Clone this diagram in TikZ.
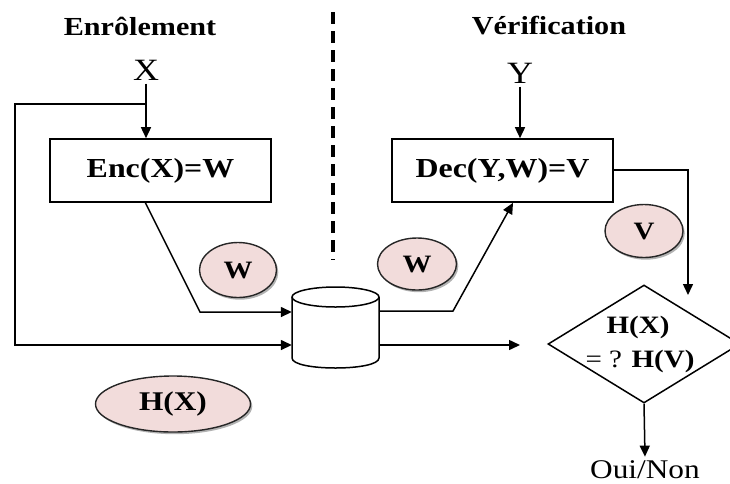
\documentclass[tikz,border=0pt]{standalone}
\usepackage{fontspec}
\setmainfont{Liberation Serif}
\usetikzlibrary{arrows.meta,shapes.geometric,shadows,calc}
\definecolor{pinkfill}{RGB}{242,220,219}
\newcommand\stx[1]{\scalebox{1.16}[1]{#1}}
\begin{document}
\begin{tikzpicture}[x=1pt,y=-1pt,
  line/.style={line width=1.5pt},
  arr/.style={line width=1.5pt,-{Triangle[length=11pt,width=10pt]}},
  box/.style={draw,line width=1.6pt,minimum width=221pt,minimum height=63pt,inner sep=0pt,font=\bfseries\fontsize{27.5}{30}\selectfont},
  bubble/.style={ellipse,draw=black!85,line width=1.4pt,fill=pinkfill,inner sep=0pt,font=\bfseries\fontsize{25}{28}\selectfont,drop shadow={shadow xshift=1.8pt,shadow yshift=-2.2pt,fill=black!60}},
  title/.style={font=\bfseries\fontsize{26}{30}\selectfont,anchor=base},
  lbl/.style={font=\fontsize{31}{32}\selectfont,anchor=base},
  dtext/.style={font=\bfseries\fontsize{25}{28}\selectfont,anchor=base,inner sep=0pt},
]
\useasboundingbox (0,0) rectangle (730,483);
% titles and separator
\node[title] (t1) at (140,35) {\stx{Enrôlement}};
\node[title] (t2) at (549,34) {\stx{Vérification}};
\coordinate (sepA) at (333,12);
\coordinate (sepB) at (333,260);
\draw[line width=3.2pt,dash pattern=on 12pt off 7pt] (sepA) -- (sepB);
% inputs and boxes
\node[lbl] (X) at (146,80) {\stx{X}};
\node[lbl] (Y) at (520,83) {\stx{Y}};
\node[box] (enc) at (160.5,170.5) {\stx{Enc(X)=W}};
\node[box] (dec) at (502.5,170.5) {\stx{Dec(Y,W)=V}};
% database cylinder
\node[minimum width=87pt,minimum height=81pt,inner sep=0pt] (db) at (335.5,327.5) {};
\draw[line] (292,297) -- (292,358) .. controls (292,371.33) and (379,371.33) .. (379,358) -- (379,297);
\draw[line] (335.5,297) ellipse[x radius=43.5,y radius=10];
% bubbles
\node[bubble,minimum width=77pt,minimum height=55pt] (w1) at (238,270) {\stx{W}};
\node[bubble,minimum width=79pt,minimum height=52pt] (w2) at (417,264) {\stx{W}};
\node[bubble,minimum width=78pt,minimum height=53pt] (v) at (644,231) {\stx{V}};
\node[bubble,minimum width=155pt,minimum height=56pt,font=\bfseries\fontsize{27}{28}\selectfont] (hx) at (173,404) {\stx{H(X)}};
% comparison diamond
\node[diamond,draw,line width=1.5pt,minimum width=192pt,minimum height=118pt,inner sep=0pt] (cmp) at (644,344) {};
\node[dtext] (d1) at (638,333) {\stx{H(X)}};
\node[dtext] (d2) at (640,367) {\stx{\mdseries= ? \bfseries H(V)}};
\node[font=\fontsize{27}{30}\selectfont,anchor=base] (on) at (645,478) {\stx{Oui/Non}};
% connectors
\coordinate (br) at (146,104);
\coordinate (lt) at (15,104);
\coordinate (lb) at (15,345);
\coordinate (encout) at (145,202);
\coordinate (k1) at (200,312);
\coordinate (k2) at (453,311);
\coordinate (decin) at (513,0);
\coordinate (vc) at (688,170);
\coordinate (vend) at (688,295);
\coordinate (cin) at (520,345);
\draw[arr] (X.south) -- (X.south |- enc.north);
\draw[arr] (br) -- (lt) -- (lb) -- (lb -| db.west);
\draw[arr] (encout) -- (k1) -- (k1 -| db.west);
\draw[arr] (k2 -| db.east) -- (k2) -- (decin |- dec.south);
\draw[arr] (Y.south) -- (Y.south |- dec.north);
\draw[arr] (dec.east |- vc) -- (vc) -- (vend);
\draw[arr] (db.east |- cin) -- (cin);
\draw[arr] (cmp.south) -- (on.north);
\end{tikzpicture}
\end{document}
